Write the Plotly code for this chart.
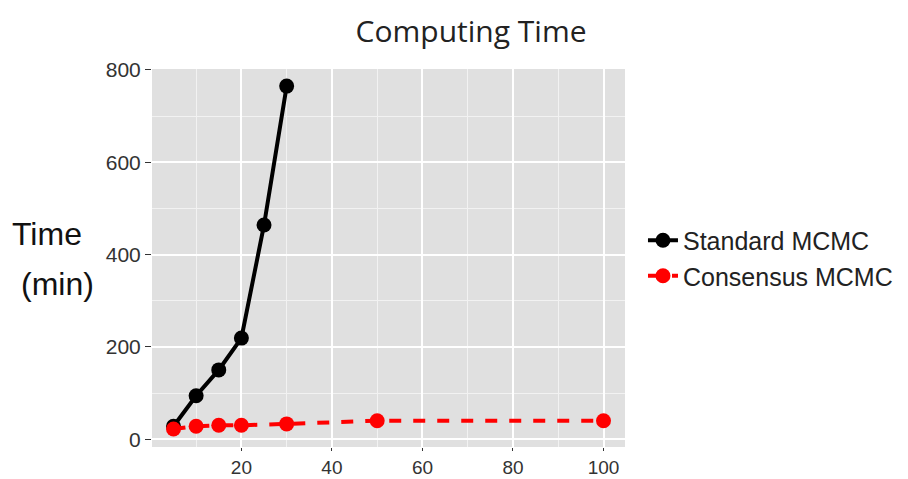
import plotly.graph_objects as go

std_x = [5, 10, 15, 20, 25, 30]
std_y = [28, 94, 150, 219, 464, 765]
con_x = [5, 10, 15, 20, 30, 50, 100]
con_y = [22, 28, 30, 30, 33, 40, 40]
x_ticks = [20, 40, 60, 80, 100]
y_ticks = [0, 200, 400, 600, 800]

fig = go.Figure()
fig.add_trace(go.Scatter(x=std_x, y=std_y, mode="lines+markers", name="Standard MCMC",
                         line=dict(color="black", width=4),
                         marker=dict(color="black", size=15)))
fig.add_trace(go.Scatter(x=con_x, y=con_y, mode="lines+markers", name="Consensus MCMC",
                         line=dict(color="#ff0000", width=4, dash="dash"),
                         marker=dict(color="#ff0000", size=15)))

fig.update_layout(
    width=908, height=479,
    margin=dict(l=144, r=291, t=61, b=40, autoexpand=False),
    paper_bgcolor="white", plot_bgcolor="#e0e0e0",
    title=dict(text="Computing Time", x=0.51, xanchor="center", y=0.951, yanchor="middle",
               font=dict(family="Open Sans", size=30, color="#222222")),
    showlegend=True,
    legend=dict(x=1.038, y=0.5, xanchor="left", yanchor="middle",
                font=dict(family="Liberation Sans", size=25, color="#222222"),
                bgcolor="rgba(0,0,0,0)", tracegroupgap=0, itemwidth=30),
    font=dict(family="Liberation Sans"),
)
fig.update_xaxes(range=[0.25, 104.75], tickvals=x_ticks, ticks="outside", ticklen=3,
                 tickcolor="#333333", tickfont=dict(size=19, color="#333333"), automargin=False,
                 showgrid=True, gridcolor="white", gridwidth=2, zeroline=False,
                 minor=dict(tickvals=[10, 30, 50, 70, 90], showgrid=True, gridcolor="#f2f2f2", gridwidth=1, ticks=""))
fig.update_yaxes(range=[-17, 802], tickvals=y_ticks, ticks="outside", ticklen=6,
                 tickcolor="#333333", tickfont=dict(size=21, color="#333333"), automargin=False,
                 showgrid=True, gridcolor="white", gridwidth=2, zeroline=False,
                 minor=dict(tickvals=[100, 300, 500, 700], showgrid=True, gridcolor="#f2f2f2", gridwidth=1, ticks=""))
fig.add_annotation(text="Time", xref="paper", yref="paper", x=-0.221, y=0.564,
                   xanchor="center", yanchor="middle", showarrow=False,
                   font=dict(family="Liberation Sans", size=32, color="#111111"))
fig.add_annotation(text="(min)", xref="paper", yref="paper", x=-0.200, y=0.43,
                   xanchor="center", yanchor="middle", showarrow=False,
                   font=dict(family="Liberation Sans", size=32, color="#111111"))

fig.write_html("out.html")
